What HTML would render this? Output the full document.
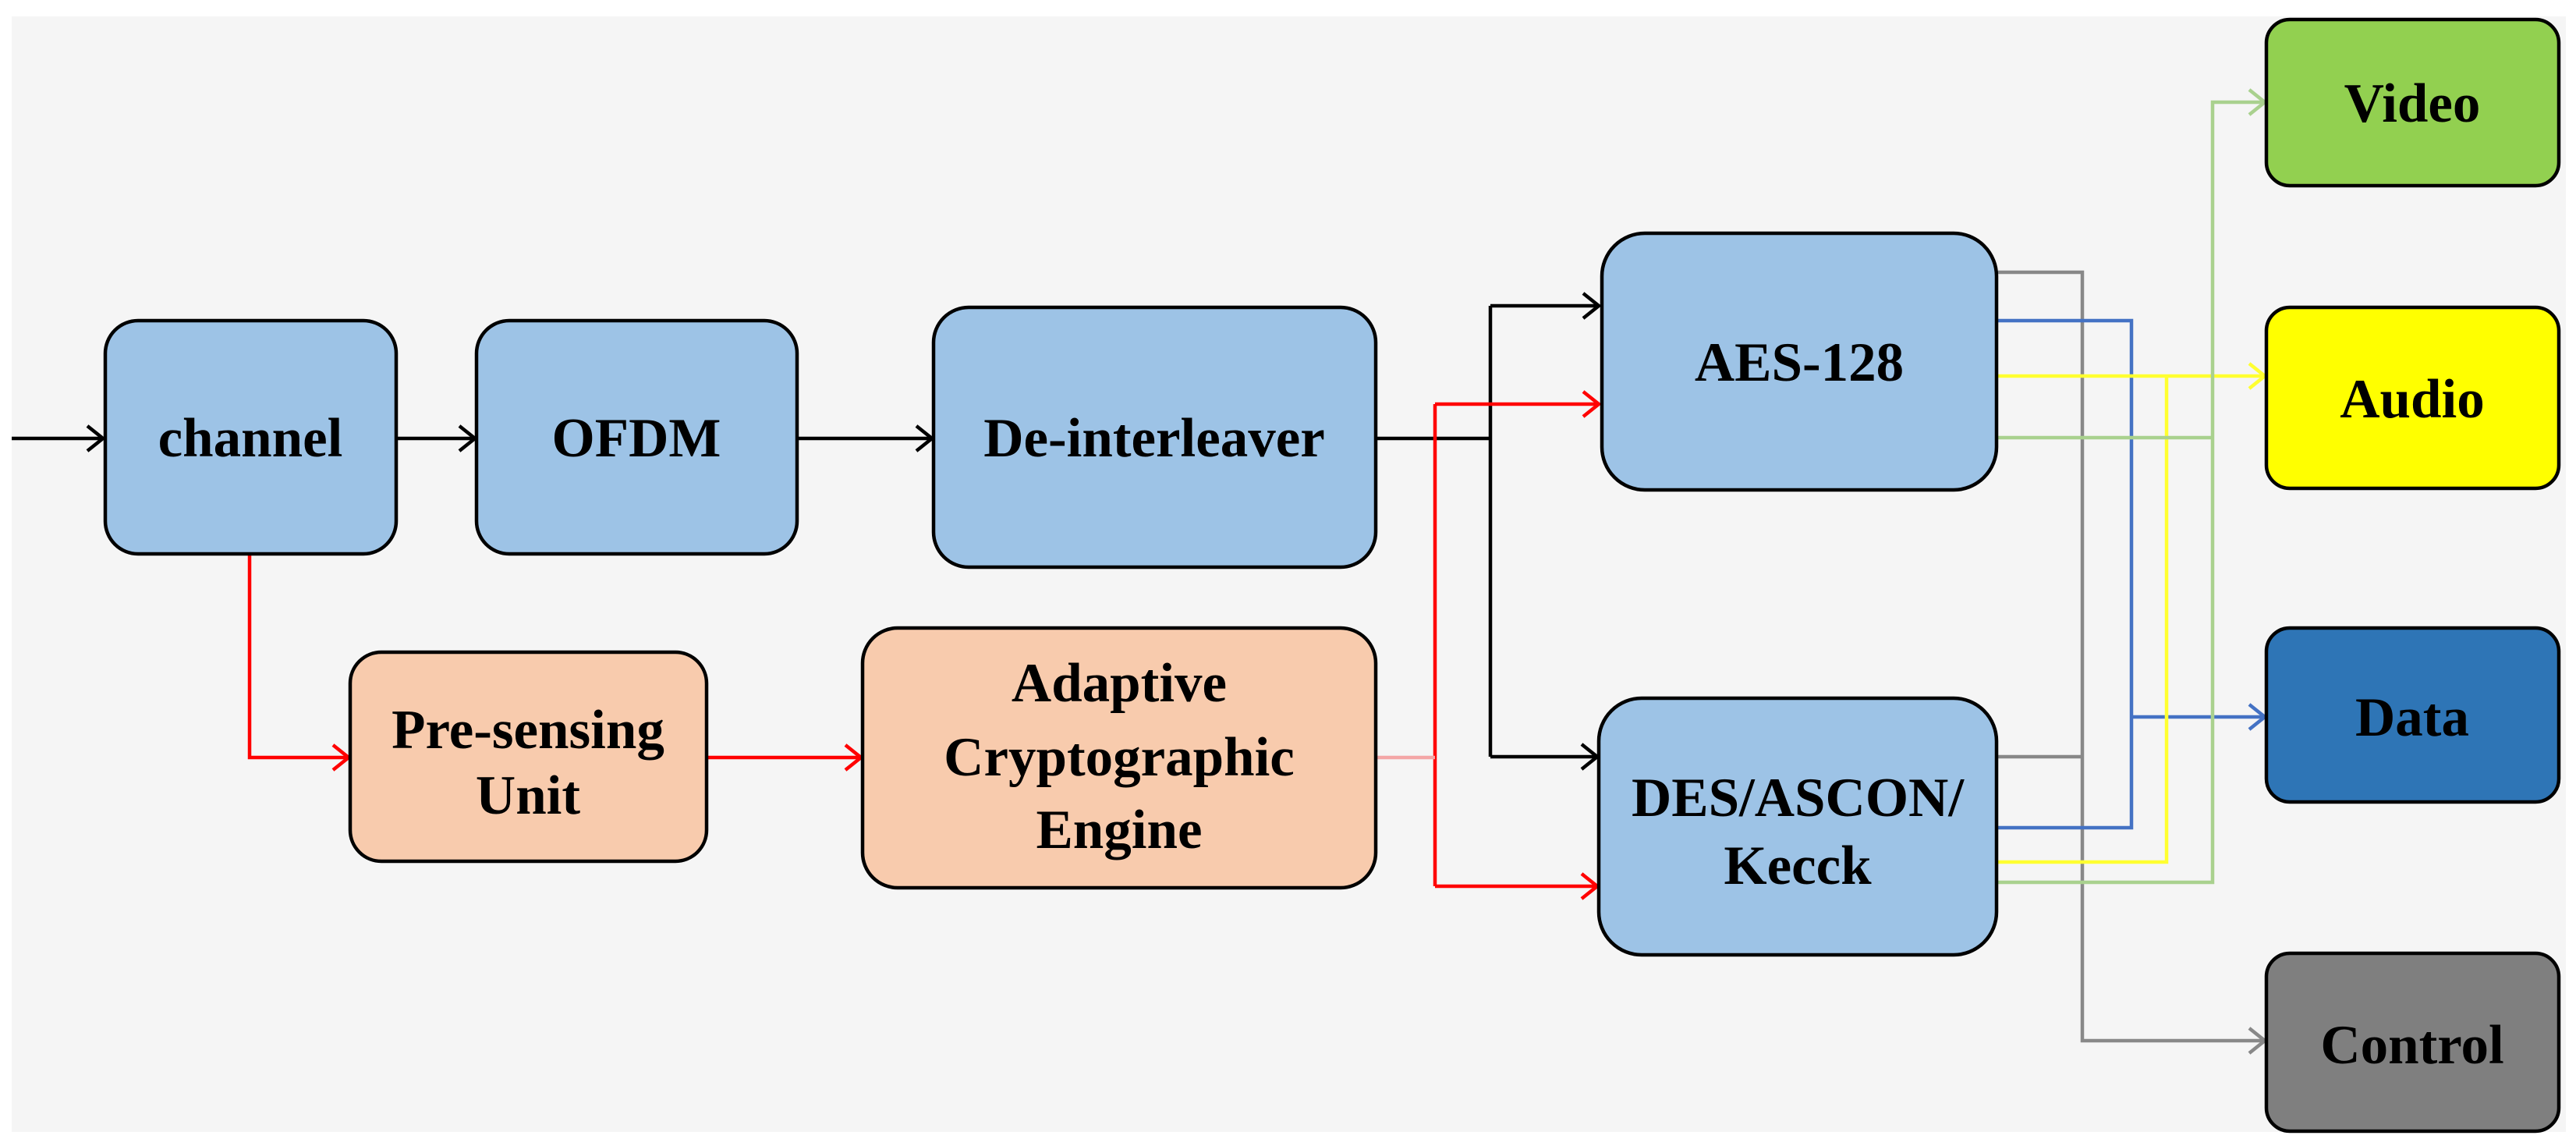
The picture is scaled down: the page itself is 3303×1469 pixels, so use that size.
<!DOCTYPE html>
<html><head><style>
html,body{margin:0;padding:0;background:#fff;}
svg{display:block}
text{font-family:"Liberation Serif",serif;font-weight:bold;font-size:71px;fill:#000;text-anchor:middle;dominant-baseline:central}
</style></head><body>
<svg width="3303" height="1469" viewBox="0 0 3303 1469" xmlns="http://www.w3.org/2000/svg">
<rect x="15" y="21" width="3275" height="1430" fill="#f5f5f5"/>
<g fill="none" stroke-width="4.5">
<g stroke="#000">
<path d="M15 562 H132"/><path d="M112 546 L132 562 L112 578"/>
<path d="M510 562 H609"/><path d="M589 546 L609 562 L589 578"/>
<path d="M1024 562 H1195"/><path d="M1175 546 L1195 562 L1175 578"/>
<path d="M1766 562 H1911 M1911 392 V970 M1911 392 H2050 M1911 970 H2048"/>
<path d="M2030 376 L2050 392 L2030 408"/><path d="M2028 954 L2048 970 L2028 986"/>
</g>
<g stroke="#f00">
<path d="M320 712 V971 H447"/><path d="M427 955 L447 971 L427 987"/>
<path d="M908 971 H1104"/><path d="M1084 955 L1104 971 L1084 987"/>
<path d="M1840 518 V1136 M1840 518 H2050 M1840 1136 H2048"/>
<path d="M2030 502 L2050 518 L2030 534"/><path d="M2028 1120 L2048 1136 L2028 1152"/>
</g>
<path d="M1766 971 H1840" stroke="#f4a6a6"/>
<g stroke="#888">
<path d="M2562 349 H2670 V1334 H2904 M2562 970 H2670"/><path d="M2884 1318 L2904 1334 L2884 1350"/>
</g>
<g stroke="#4472c4">
<path d="M2562 411 H2733 V1061 H2562 M2733 919 H2904"/><path d="M2884 903 L2904 919 L2884 935"/>
</g>
<g stroke="#ffff30">
<path d="M2562 482 H2904 M2778 482 V1105 H2562"/><path d="M2884 466 L2904 482 L2884 498"/>
</g>
<g stroke="#a9d18e">
<path d="M2562 561 H2837 M2562 1131 H2837 V131 H2904"/><path d="M2884 115 L2904 131 L2884 147"/>
</g>
</g>
<g stroke="#000" stroke-width="4.5">
<rect x="135" y="411" width="373" height="299" rx="42" fill="#9dc3e6"/>
<rect x="611" y="411" width="411" height="299" rx="42" fill="#9dc3e6"/>
<rect x="1197" y="394" width="567" height="333" rx="45" fill="#9dc3e6"/>
<rect x="449" y="836" width="457" height="268" rx="40" fill="#f8cbad"/>
<rect x="1106" y="805" width="658" height="333" rx="45" fill="#f8cbad"/>
<rect x="2054" y="299" width="506" height="329" rx="55" fill="#9dc3e6"/>
<rect x="2050" y="895" width="510" height="329" rx="55" fill="#9dc3e6"/>
<rect x="2906" y="25" width="375" height="213" rx="30" fill="#92d050"/>
<rect x="2906" y="394" width="375" height="232" rx="30" fill="#ffff00"/>
<rect x="2906" y="805" width="375" height="223" rx="30" fill="#2e75b6"/>
<rect x="2906" y="1222" width="375" height="228" rx="30" fill="#7f7f7f"/>
</g>
<text x="321" y="562">channel</text>
<text x="816" y="562">OFDM</text>
<text x="1480" y="562">De-interleaver</text>
<text x="677" y="936">Pre-sensing</text>
<text x="677" y="1020">Unit</text>
<text x="1435" y="876">Adaptive</text>
<text x="1435" y="971">Cryptographic</text>
<text x="1435" y="1064">Engine</text>
<text x="2307" y="465">AES-128</text>
<text x="2305" y="1023">DES/ASCON/</text>
<text x="2305" y="1110">Kecck</text>
<text x="3093" y="133">Video</text>
<text x="3093" y="512">Audio</text>
<text x="3093" y="920">Data</text>
<text x="3093" y="1340">Control</text>
</svg>
</body></html>
